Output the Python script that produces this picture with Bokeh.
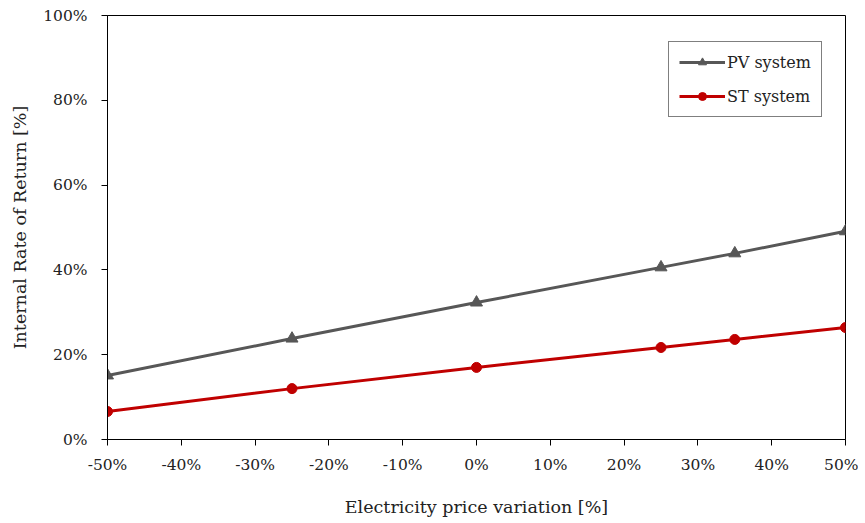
from bokeh.plotting import figure
from bokeh.models import Legend, LegendItem, FixedTicker, Range1d
from bokeh.embed import file_html
from bokeh.resources import INLINE

price_variation = [-50, -25, 0, 25, 35, 50]
pv_irr = [15.1, 23.8, 32.3, 40.6, 43.9, 49.1]
st_irr = [6.6, 12.0, 17.0, 21.7, 23.6, 26.4]
x_ticks = [-50, -40, -30, -20, -10, 0, 10, 20, 30, 40, 50]
y_ticks = [0, 20, 40, 60, 80, 100]

FONT = "DejaVu Serif"

p = figure(width=858, height=520, output_backend="svg", toolbar_location=None,
           x_range=Range1d(-50, 50), y_range=Range1d(0, 100),
           min_border_left=107, min_border_right=13, min_border_top=15, min_border_bottom=81)

p.grid.visible = False
p.outline_line_color = "black"
p.outline_line_width = 1

pv_line = p.line(price_variation, pv_irr, line_color="#575757", line_width=3)
pv_mark = p.scatter(price_variation, pv_irr, marker="triangle", size=12,
                    fill_color="#575757", line_color="#575757")
st_line = p.line(price_variation, st_irr, line_color="#c00000", line_width=3)
st_mark = p.scatter(price_variation, st_irr, marker="circle", size=10,
                    fill_color="#c00000", line_color="#c00000")

for ax in (p.xaxis[0], p.yaxis[0]):
    ax.major_label_text_font = FONT
    ax.major_label_text_font_size = "15.5px"
    ax.major_label_text_color = "#222222"
    ax.axis_label_text_font = FONT
    ax.axis_label_text_font_size = "17.5px"
    ax.axis_label_text_font_style = "normal"
    ax.axis_label_text_color = "#222222"
    ax.major_tick_out = 6
    ax.major_tick_in = 0
    ax.minor_tick_line_color = None
    ax.axis_line_color = "black"
    ax.major_tick_line_color = "black"

p.xaxis[0].ticker = FixedTicker(ticks=x_ticks)
p.yaxis[0].ticker = FixedTicker(ticks=y_ticks)
p.xaxis[0].major_label_overrides = {t: f"{t}%" for t in x_ticks}
p.yaxis[0].major_label_overrides = {t: f"{t}%" for t in y_ticks}
p.xaxis[0].axis_label = "Electricity price variation [%]"
p.yaxis[0].axis_label = "Internal Rate of Return [%]"
p.xaxis[0].major_label_standoff = 10
p.xaxis[0].axis_label_standoff = 20
p.yaxis[0].major_label_standoff = 14
p.yaxis[0].axis_label_standoff = 10

legend = Legend(items=[
    LegendItem(label="PV system", renderers=[pv_line, pv_mark]),
    LegendItem(label="ST system", renderers=[st_line, st_mark]),
], location=(561, 322))
legend.margin = 0
legend.border_line_color = "black"
legend.border_line_width = 1
legend.label_text_font = FONT
legend.label_text_font_size = "16px"
legend.label_text_color = "#222222"
legend.glyph_width = 46
legend.spacing = 14
legend.padding = 10
legend.label_standoff = 2
p.add_layout(legend)

open("out.html", "w").write(file_html(p, INLINE))
